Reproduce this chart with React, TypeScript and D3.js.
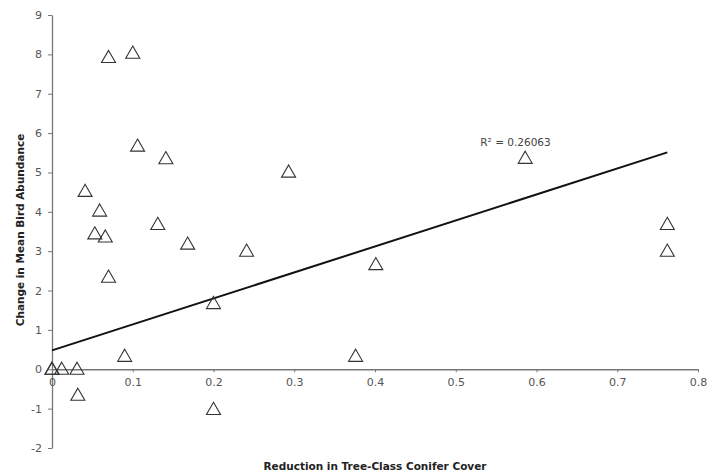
import { useEffect, useRef } from 'react';
import * as d3 from 'd3';

// reduction in tree-class conifer cover (x) vs change in mean bird abundance (y)
const coverReduction = [
  0, 0, 0.012, 0.031, 0.032, 0.041, 0.053, 0.059, 0.066, 0.07, 0.07, 0.09,
  0.1, 0.106, 0.131, 0.141, 0.168, 0.2, 0.2, 0.241, 0.293, 0.376, 0.401,
  0.586, 0.762, 0.762,
];
const abundanceChange = [
  0, 0, 0, 0, -0.66, 4.52, 3.44, 4.02, 3.36, 7.92, 2.34, 0.33,
  8.03, 5.67, 3.68, 5.35, 3.18, 1.67, -1.02, 3.0, 5.01, 0.33, 2.66,
  5.36, 3.68, 3.0,
];

// linear trend line as printed on the chart
const trendIntercept = 0.48;
const trendSlope = 6.6;
const rSquaredLabel = 'R² = 0.26063';

const xTicks = [0, 0.1, 0.2, 0.3, 0.4, 0.5, 0.6, 0.7, 0.8];
const yTicks = [-2, -1, 0, 1, 2, 3, 4, 5, 6, 7, 8, 9];

const xTitle = 'Reduction in Tree-Class Conifer Cover';
const yTitle = 'Change in Mean Bird Abundance';

const width = 712;
const height = 476;

export default function App() {
  const svgRef = useRef<SVGSVGElement>(null);

  useEffect(() => {
    if (!svgRef.current) return;
    const svg = d3.select(svgRef.current);
    svg.selectAll('*').remove();

    const font = 'DejaVu Sans, Verdana, sans-serif';

    const x = d3.scaleLinear().domain([0, 0.8]).range([52, 698]);
    const y = d3.scaleLinear().domain([-2, 9]).range([448, 15]);

    svg.append('rect').attr('width', width).attr('height', height).attr('fill', '#fff');

    // y axis at x = 0
    const yAxis = svg
      .append('g')
      .attr('transform', `translate(${x(0)},0)`)
      .call(
        d3.axisLeft(y)
          .tickValues(yTicks)
          .tickSizeInner(4)
          .tickSizeOuter(0)
          .tickPadding(6)
          .tickFormat((d) => `${d}`)
      );

    // x axis at y = 0
    const xAxis = svg
      .append('g')
      .attr('transform', `translate(0,${y(0)})`)
      .call(
        d3.axisBottom(x)
          .tickValues(xTicks)
          .tickSizeInner(3)
          .tickSizeOuter(0)
          .tickPadding(6)
          .tickFormat((d) => `${d}`)
      );

    [xAxis, yAxis].forEach((ax) => {
      ax.select('.domain').attr('stroke', '#777').attr('stroke-width', 1.3);
      ax.selectAll('.tick line').attr('stroke', '#777');
      ax.selectAll('.tick text')
        .attr('fill', '#555')
        .attr('font-family', font)
        .attr('font-size', 11);
    });

    // trend line
    const xMax = d3.max(coverReduction) ?? 0.76;
    svg.append('line')
      .attr('x1', x(0))
      .attr('y1', y(trendIntercept))
      .attr('x2', x(xMax))
      .attr('y2', y(trendIntercept + trendSlope * xMax))
      .attr('stroke', '#111')
      .attr('stroke-width', 2);

    svg.append('text')
      .attr('x', x(0.574))
      .attr('y', y(5.68))
      .attr('text-anchor', 'middle')
      .attr('font-family', font)
      .attr('font-size', 10.5)
      .attr('fill', '#444')
      .text(rSquaredLabel);

    // triangle markers
    const tri = d3.symbol().type(d3.symbolTriangle).size(85);
    svg.append('g')
      .selectAll('path')
      .data(coverReduction.map((v, i) => [v, abundanceChange[i]]))
      .join('path')
      .attr('d', tri)
      .attr('transform', (d) => `translate(${x(d[0])},${y(d[1]) + 1})`)
      .attr('fill', 'none')
      .attr('stroke', '#333')
      .attr('stroke-width', 1.1);

    // axis titles
    svg.append('text')
      .attr('x', 375)
      .attr('y', 470)
      .attr('text-anchor', 'middle')
      .attr('font-family', font)
      .attr('font-weight', 'bold')
      .attr('font-size', 10.5)
      .attr('fill', '#222')
      .text(xTitle);

    svg.append('text')
      .attr('transform', 'rotate(-90)')
      .attr('x', -230)
      .attr('y', 24)
      .attr('text-anchor', 'middle')
      .attr('font-family', font)
      .attr('font-weight', 'bold')
      .attr('font-size', 10.5)
      .attr('fill', '#222')
      .text(yTitle);
  }, []);

  return (
    <svg
      ref={svgRef}
      width={width}
      height={height}
      style={{ position: 'absolute', left: 0, top: 0 }}
    />
  );
}
